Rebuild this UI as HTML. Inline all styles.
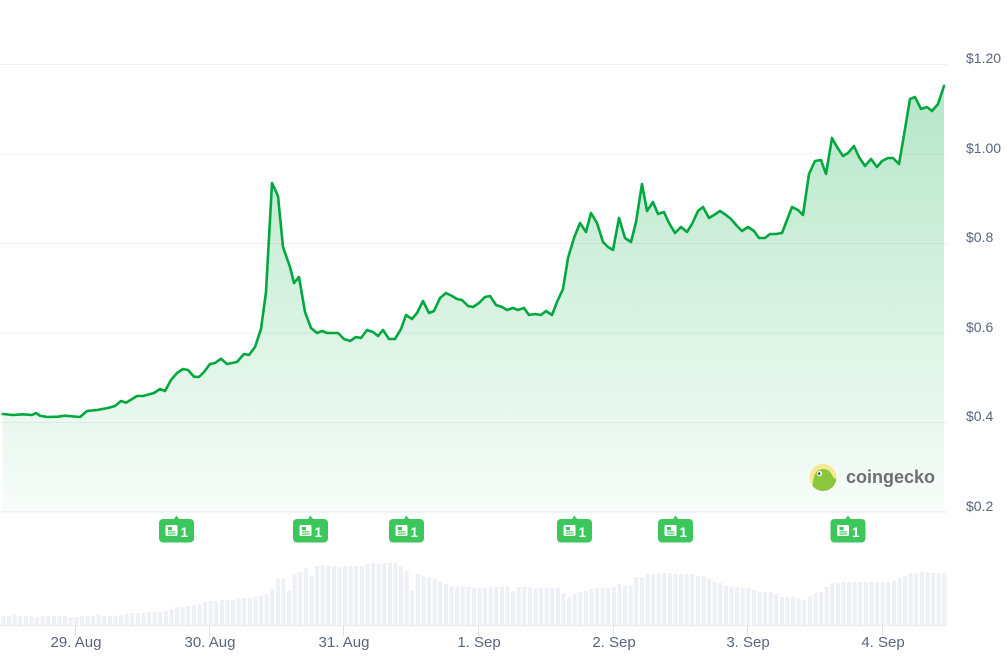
<!DOCTYPE html>
<html>
<head>
<meta charset="utf-8">
<style>
html,body{margin:0;padding:0;background:#fff;}
svg{display:block;}
text{font-family:"Liberation Sans",Arial,sans-serif;}
</style>
</head>
<body>
<svg width="1007" height="668" viewBox="0 0 1007 668" xmlns="http://www.w3.org/2000/svg">
<defs>
<linearGradient id="fg" gradientUnits="userSpaceOnUse" x1="0" y1="64" x2="0" y2="512">
<stop offset="0" stop-color="#10ae4e" stop-opacity="0.32"/>
<stop offset="1" stop-color="#10ae4e" stop-opacity="0.03"/>
</linearGradient>
<clipPath id="cgc"><circle cx="823" cy="477.5" r="13.5"/></clipPath>
<g id="badge">
<polygon points="14.5,519.5 17.5,515.5 20.5,519.5" fill="#3cc65c"/>
<rect x="0" y="519" width="35" height="23.5" rx="4" fill="#3cc65c"/>
<rect x="6.5" y="525" width="12" height="11" rx="1.5" fill="#fff"/>
<rect x="9" y="527" width="4" height="3.2" fill="#3cc65c"/>
<rect x="9" y="531.3" width="7.5" height="1.1" fill="#3cc65c"/>
<rect x="9" y="533.5" width="7.5" height="1.1" fill="#3cc65c"/>
</g>
</defs>

<g stroke="#eef0f3" stroke-width="1">
<line x1="0" y1="64.5" x2="947" y2="64.5"/>
<line x1="0" y1="154" x2="947" y2="154"/>
<line x1="0" y1="243.5" x2="947" y2="243.5"/>
<line x1="0" y1="333" x2="947" y2="333"/>
<line x1="0" y1="422.5" x2="947" y2="422.5"/>
<line x1="0" y1="512" x2="947" y2="512" stroke="#e6e9ed"/>
</g>

<g fill="#58667e" font-size="14">
<text x="966" y="63">$1.20</text>
<text x="966" y="153">$1.00</text>
<text x="966" y="242">$0.8</text>
<text x="966" y="332">$0.6</text>
<text x="966" y="421">$0.4</text>
<text x="966" y="511">$0.2</text>
</g>

<path fill="url(#fg)" d="M2.7,512 L2.7,414 L13,415 L23,414.3 L32,415 L36,413 L40,415.7 L47,417 L58,416.7 L65,415.7 L80,417 L87,411 L97,410 L108,408 L115,406 L121,401 L126,402.7 L137,396 L143,396 L154,393 L160,389 L165,391 L171,380 L177,373 L183,369 L188,370 L194,376.7 L199,377 L204,372 L210,364 L215,363 L221,358.7 L227,364 L237,362 L244,354 L249,355 L255,347 L261,329 L266,292 L272,183 L278,196 L283,247 L290,267 L294,283 L299,277 L305,312 L311,328 L317,333 L322,331 L327,333 L338,333 L344,339 L350,341 L356,337 L361,338 L367,330 L373,332 L378,336 L383,330 L389,339 L395,339 L401,329 L406,315 L412,319 L417,313 L423,301 L429,313 L434,311 L440,298 L446,293 L452,296 L457,299 L462,300 L468,306 L473,307 L479,303 L485,297 L490,296 L496,305 L502,307 L507,310 L513,308 L518,310 L524,308 L529,315 L535,314 L541,315 L546,311 L552,315 L557,302 L563,289 L568,258 L574,238 L580,223 L586,232 L591,213 L597,223 L603,242 L608,247 L613,250 L619,218 L625,238 L631,242 L636,222 L642,184 L647,211 L653,202 L658,214 L664,212 L669,223 L675,233 L681,227 L687,232 L692,224 L698,211 L703,207 L709,218 L714,215 L720,211 L726,215 L731,219 L737,226 L742,231 L748,227 L754,231 L759,238 L765,238 L770,234 L776,234 L782,233 L787,220 L792,207 L798,210 L803,215 L809,174 L815,161 L821,160 L826,174 L832,138 L837,147 L843,156 L848,153 L854,146 L859,157 L865,166 L871,159 L877,167 L882,161 L888,158 L893,158 L899,164 L904,135 L910,99 L915,97 L921,109 L927,107 L932,111 L938,104 L944,86 L944,512 Z"/>

<path fill="none" stroke="#00a83e" stroke-width="2.6" stroke-linejoin="round" stroke-linecap="round" d="M2.7,414 L13,415 L23,414.3 L32,415 L36,413 L40,415.7 L47,417 L58,416.7 L65,415.7 L80,417 L87,411 L97,410 L108,408 L115,406 L121,401 L126,402.7 L137,396 L143,396 L154,393 L160,389 L165,391 L171,380 L177,373 L183,369 L188,370 L194,376.7 L199,377 L204,372 L210,364 L215,363 L221,358.7 L227,364 L237,362 L244,354 L249,355 L255,347 L261,329 L266,292 L272,183 L278,196 L283,247 L290,267 L294,283 L299,277 L305,312 L311,328 L317,333 L322,331 L327,333 L338,333 L344,339 L350,341 L356,337 L361,338 L367,330 L373,332 L378,336 L383,330 L389,339 L395,339 L401,329 L406,315 L412,319 L417,313 L423,301 L429,313 L434,311 L440,298 L446,293 L452,296 L457,299 L462,300 L468,306 L473,307 L479,303 L485,297 L490,296 L496,305 L502,307 L507,310 L513,308 L518,310 L524,308 L529,315 L535,314 L541,315 L546,311 L552,315 L557,302 L563,289 L568,258 L574,238 L580,223 L586,232 L591,213 L597,223 L603,242 L608,247 L613,250 L619,218 L625,238 L631,242 L636,222 L642,184 L647,211 L653,202 L658,214 L664,212 L669,223 L675,233 L681,227 L687,232 L692,224 L698,211 L703,207 L709,218 L714,215 L720,211 L726,215 L731,219 L737,226 L742,231 L748,227 L754,231 L759,238 L765,238 L770,234 L776,234 L782,233 L787,220 L792,207 L798,210 L803,215 L809,174 L815,161 L821,160 L826,174 L832,138 L837,147 L843,156 L848,153 L854,146 L859,157 L865,166 L871,159 L877,167 L882,161 L888,158 L893,158 L899,164 L904,135 L910,99 L915,97 L921,109 L927,107 L932,111 L938,104 L944,86"/>

<circle cx="823" cy="477.5" r="13.5" fill="#f6e98f"/>
<g clip-path="url(#cgc)">
<path fill="#8cc63f" d="M813,492 C812,480 814,470 822,469 C828,468.5 831,472 833,477 L837,480 C838,487 833,493 825,493 Z"/>
<circle cx="819.5" cy="473.5" r="2.6" fill="#fff"/>
<circle cx="819.2" cy="473.6" r="1.3" fill="#4a4a4a"/>
</g>
<text x="846" y="483" font-size="18" font-weight="bold" fill="#6f6f6f">coingecko</text>

<use href="#badge" transform="translate(159,0)"/>
<use href="#badge" transform="translate(293,0)"/>
<use href="#badge" transform="translate(389,0)"/>
<use href="#badge" transform="translate(557,0)"/>
<use href="#badge" transform="translate(658,0)"/>
<use href="#badge" transform="translate(830.5,0)"/>
<g fill="#fff" font-size="13.5" font-weight="bold">
<text x="180.5" y="537">1</text>
<text x="314.5" y="537">1</text>
<text x="410.5" y="537">1</text>
<text x="578.5" y="537">1</text>
<text x="679.5" y="537">1</text>
<text x="852" y="537">1</text>
</g>

<path fill="#edf0f4" d="M1.5,625
v-9h4v9m1.6,0 v-9h4v9m1.6,0 v-10h4v10m1.6,0 v-9h4v9m1.6,0 v-9h4v9m1.6,0
v-9h4v9m1.6,0 v-8h4v8m1.6,0 v-9h4v9m1.6,0 v-9h4v9m1.6,0 v-9h4v9m1.6,0
v-9h4v9m1.6,0 v-9h4v9m1.6,0 v-8h4v8m1.6,0 v-8h4v8m1.6,0 v-9h4v9m1.6,0
v-9h4v9m1.6,0 v-9h4v9m1.6,0 v-10h4v10m1.6,0 v-9h4v9m1.6,0 v-9h4v9m1.6,0
v-9h4v9m1.6,0 v-10h4v10m1.6,0 v-11h4v11m1.6,0 v-12h4v12m1.6,0 v-12h4v12m1.6,0
v-12h4v12m1.6,0 v-13h4v13m1.6,0 v-13h4v13m1.6,0 v-13h4v13m1.6,0 v-14h4v14m1.6,0
v-16h4v16m1.6,0 v-18h4v18m1.6,0 v-18h4v18m1.6,0 v-19h4v19m1.6,0 v-20h4v20m1.6,0
v-21h4v21m1.6,0 v-23h4v23m1.6,0 v-24h4v24m1.6,0 v-24h4v24m1.6,0 v-25h4v25m1.6,0
v-25h4v25m1.6,0 v-25h4v25m1.6,0 v-26h4v26m1.6,0 v-27h4v27m1.6,0 v-27h4v27m1.6,0
v-28h4v28m1.6,0 v-29h4v29m1.6,0 v-31h4v31m1.6,0 v-36h4v36m1.6,0 v-46h4v46m1.6,0
v-46h4v46m1.6,0 v-34h4v34m1.6,0 v-51h4v51m1.6,0 v-53h4v53m1.6,0 v-57h4v57m1.6,0
v-49h4v49m1.6,0 v-59h4v59m1.6,0 v-60h4v60m1.6,0 v-59h4v59m1.6,0 v-59h4v59m1.6,0
v-58h4v58m1.6,0 v-59h4v59m1.6,0 v-59h4v59m1.6,0 v-59h4v59m1.6,0 v-59h4v59m1.6,0
v-61h4v61m1.6,0 v-62h4v62m1.6,0 v-61h4v61m1.6,0 v-62h4v62m1.6,0 v-62h4v62m1.6,0
v-62h4v62m1.6,0 v-59h4v59m1.6,0 v-54h4v54m1.6,0 v-34h4v34m1.6,0 v-51h4v51m1.6,0
v-49h4v49m1.6,0 v-48h4v48m1.6,0 v-46h4v46m1.6,0 v-43h4v43m1.6,0 v-41h4v41m1.6,0
v-39h4v39m1.6,0 v-38h4v38m1.6,0 v-38h4v38m1.6,0 v-38h4v38m1.6,0 v-37h4v37m1.6,0
v-37h4v37m1.6,0 v-37h4v37m1.6,0 v-38h4v38m1.6,0 v-38h4v38m1.6,0 v-38h4v38m1.6,0
v-38h4v38m1.6,0 v-34h4v34m1.6,0 v-38h4v38m1.6,0 v-38h4v38m1.6,0 v-38h4v38m1.6,0
v-37h4v37m1.6,0 v-37h4v37m1.6,0 v-37h4v37m1.6,0 v-37h4v37m1.6,0 v-37h4v37m1.6,0
v-32h4v32m1.6,0 v-28h4v28m1.6,0 v-31h4v31m1.6,0 v-33h4v33m1.6,0 v-34h4v34m1.6,0
v-36h4v36m1.6,0 v-37h4v37m1.6,0 v-37h4v37m1.6,0 v-37h4v37m1.6,0 v-38h4v38m1.6,0
v-41h4v41m1.6,0 v-39h4v39m1.6,0 v-39h4v39m1.6,0 v-48h4v48m1.6,0 v-48h4v48m1.6,0
v-51h4v51m1.6,0 v-51h4v51m1.6,0 v-51h4v51m1.6,0 v-52h4v52m1.6,0 v-52h4v52m1.6,0
v-51h4v51m1.6,0 v-51h4v51m1.6,0 v-51h4v51m1.6,0 v-51h4v51m1.6,0 v-49h4v49m1.6,0
v-49h4v49m1.6,0 v-46h4v46m1.6,0 v-43h4v43m1.6,0 v-42h4v42m1.6,0 v-39h4v39m1.6,0
v-38h4v38m1.6,0 v-38h4v38m1.6,0 v-37h4v37m1.6,0 v-37h4v37m1.6,0 v-35h4v35m1.6,0
v-33h4v33m1.6,0 v-33h4v33m1.6,0 v-33h4v33m1.6,0 v-31h4v31m1.6,0 v-28h4v28m1.6,0
v-28h4v28m1.6,0 v-28h4v28m1.6,0 v-27h4v27m1.6,0 v-25h4v25m1.6,0 v-29h4v29m1.6,0
v-32h4v32m1.6,0 v-33h4v33m1.6,0 v-38h4v38m1.6,0 v-42h4v42m1.6,0 v-42h4v42m1.6,0
v-43h4v43m1.6,0 v-43h4v43m1.6,0 v-43h4v43m1.6,0 v-43h4v43m1.6,0 v-43h4v43m1.6,0
v-43h4v43m1.6,0 v-43h4v43m1.6,0 v-43h4v43m1.6,0 v-43h4v43m1.6,0 v-44h4v44m1.6,0
v-47h4v47m1.6,0 v-49h4v49m1.6,0 v-52h4v52m1.6,0 v-52h4v52m1.6,0 v-53h4v53m1.6,0
v-53h4v53m1.6,0 v-52h4v52m1.6,0 v-52h4v52m1.6,0 v-52h4v52z"/>

<line x1="0" y1="625.5" x2="947" y2="625.5" stroke="#e8ebf0" stroke-width="1"/>
<g stroke="#dfe3e8" stroke-width="1">
<line x1="75.5" y1="625" x2="75.5" y2="636"/>
<line x1="209.5" y1="625" x2="209.5" y2="636"/>
<line x1="343.5" y1="625" x2="343.5" y2="636"/>
<line x1="478.5" y1="625" x2="478.5" y2="636"/>
<line x1="613.5" y1="625" x2="613.5" y2="636"/>
<line x1="747.5" y1="625" x2="747.5" y2="636"/>
<line x1="882.5" y1="625" x2="882.5" y2="636"/>
</g>
<g fill="#58667e" font-size="15" text-anchor="middle">
<text x="76" y="647">29. Aug</text>
<text x="210" y="647">30. Aug</text>
<text x="344" y="647">31. Aug</text>
<text x="479" y="647">1. Sep</text>
<text x="614" y="647">2. Sep</text>
<text x="748" y="647">3. Sep</text>
<text x="883" y="647">4. Sep</text>
</g>
</svg>
</body>
</html>
